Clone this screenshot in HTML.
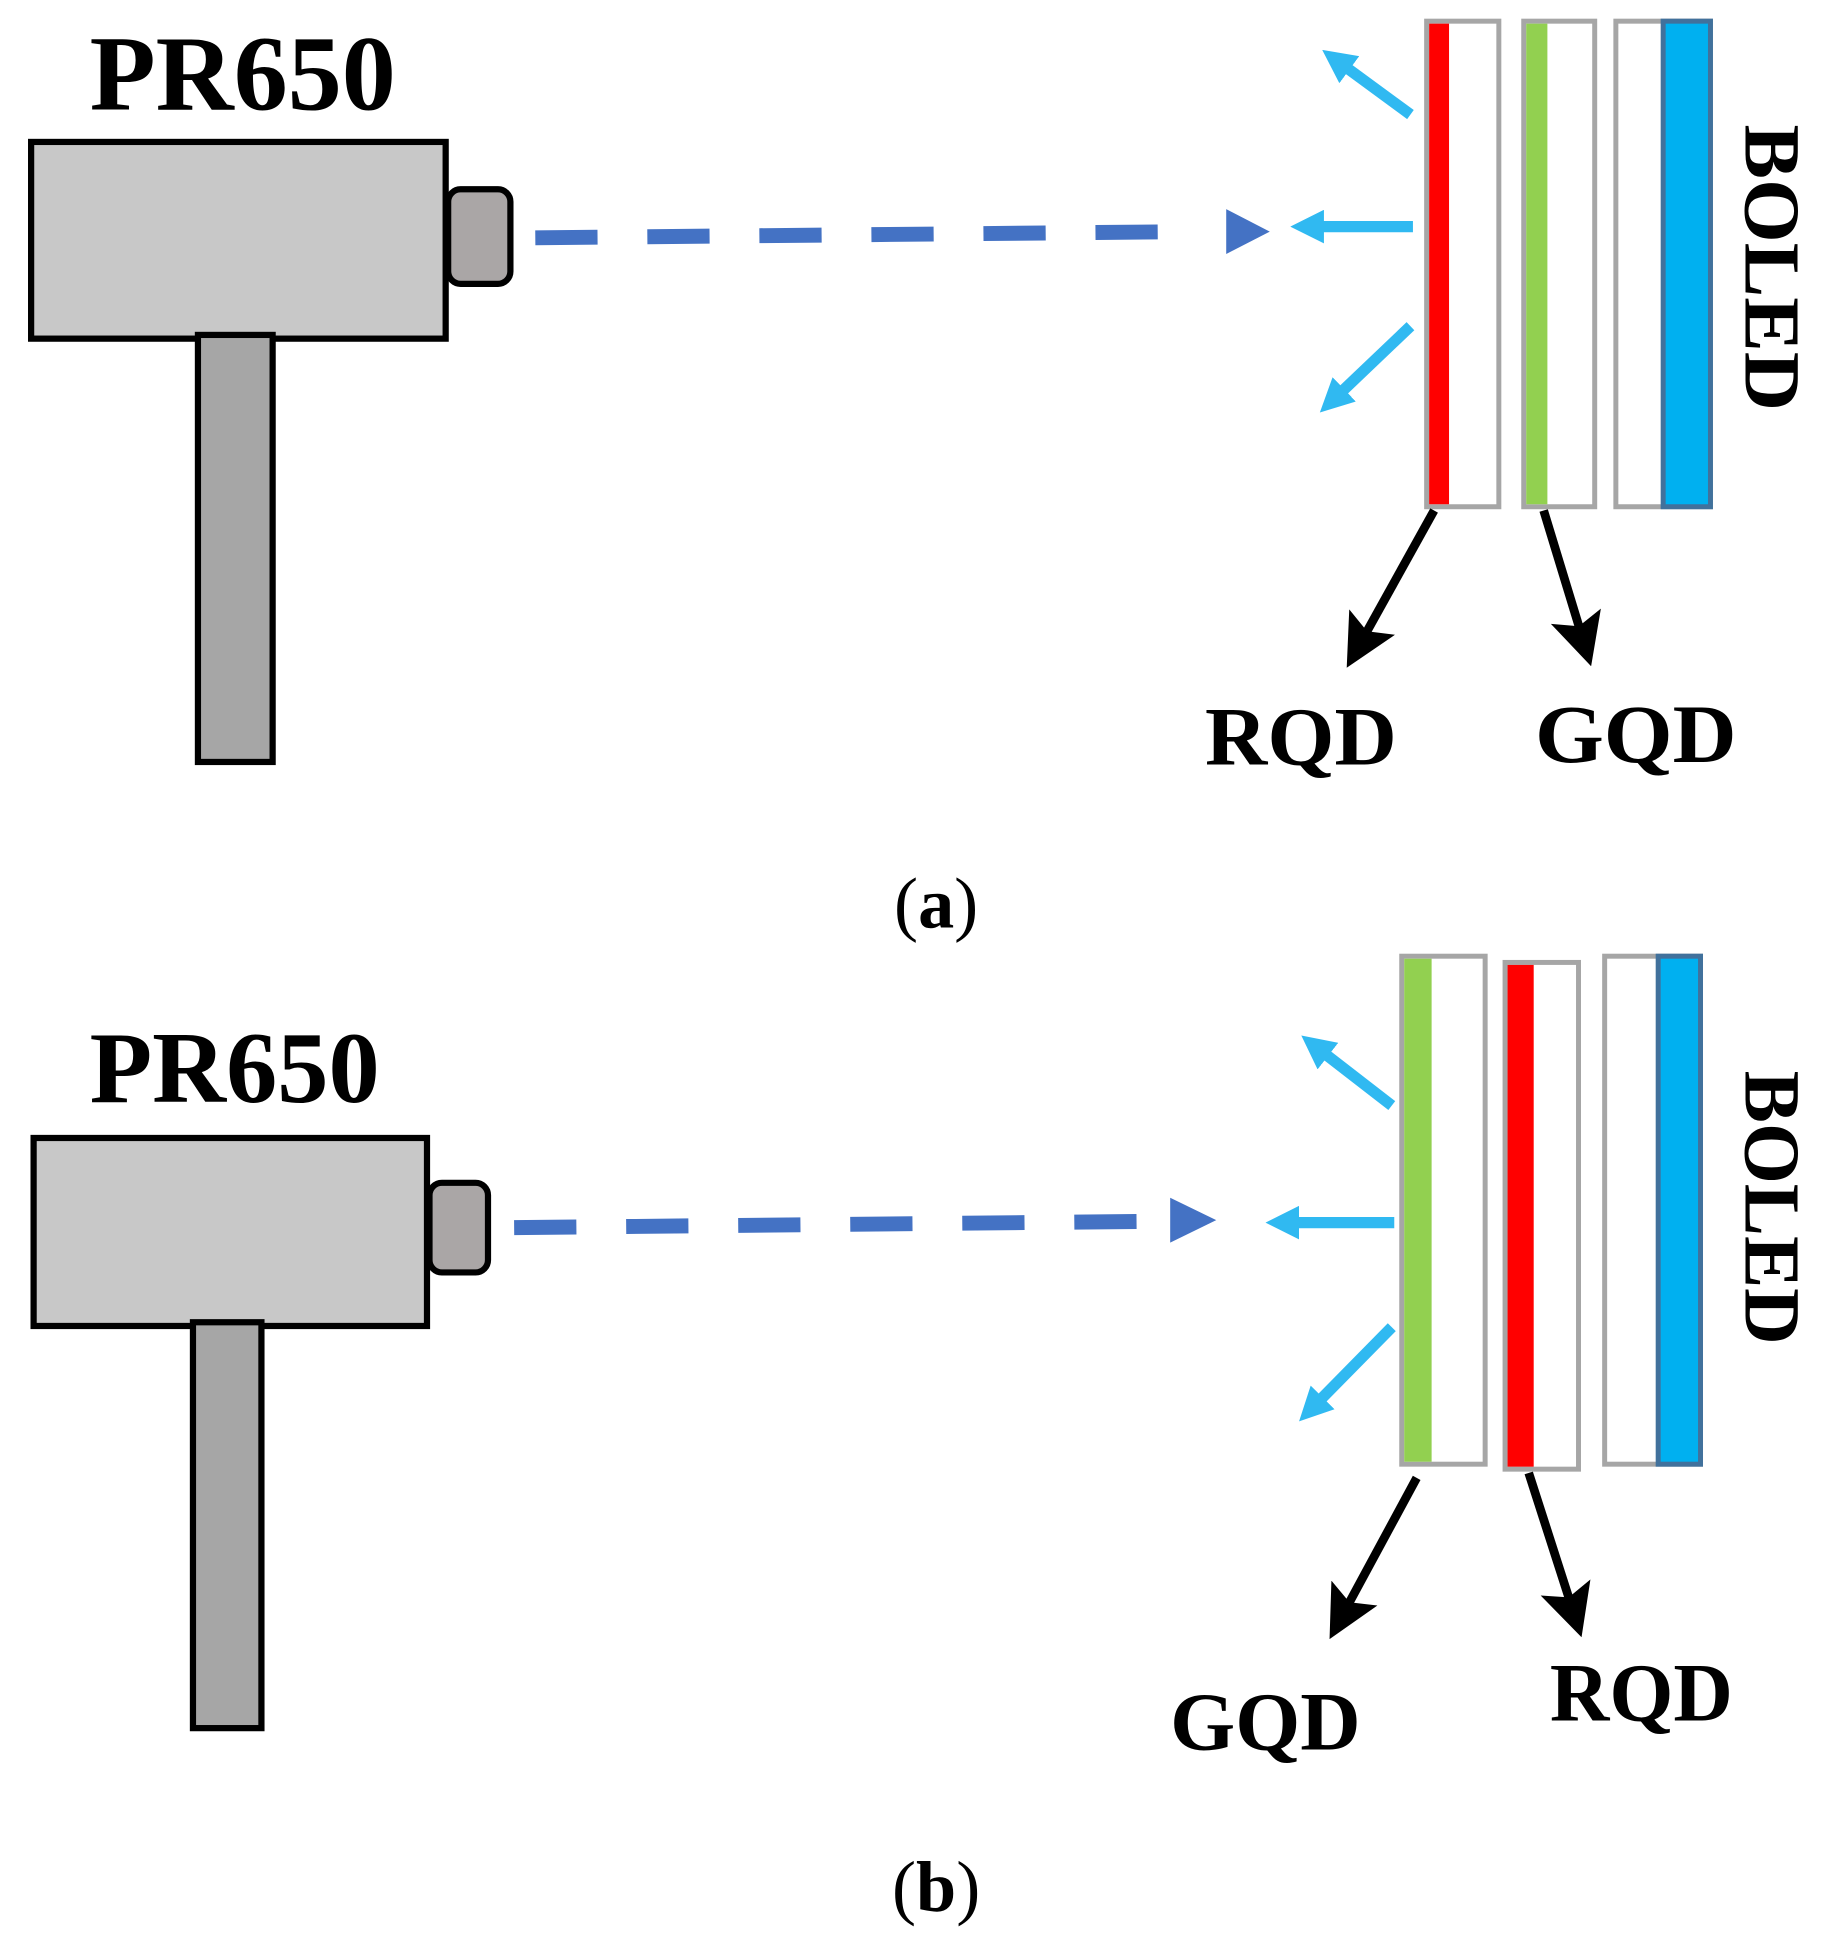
<!DOCTYPE html>
<html><head><meta charset="utf-8"><style>html,body{margin:0;padding:0;background:#fff}svg{display:block}</style></head>
<body>
<svg width="1825" height="1951" viewBox="0 0 1466 1567" preserveAspectRatio="none" xmlns="http://www.w3.org/2000/svg">
<defs>
<marker id="bk" markerWidth="6" markerHeight="6" refX="3" refY="3" orient="auto" markerUnits="strokeWidth"><path d="M0,0 L6,3 L0,6 L1.2,3 z" fill="#000"/></marker>
<marker id="cy" markerWidth="3" markerHeight="3" refX="1.5" refY="1.5" orient="auto" markerUnits="strokeWidth"><path d="M0,0 L3,1.5 L0,3 z" fill="#1ab2f0"/></marker>
</defs>
<g font-family="Liberation Serif, serif" font-weight="bold" fill="#000">
<!-- panel a -->
<text x="72" y="88" font-size="86" textLength="246" lengthAdjust="spacingAndGlyphs">PR650</text>
<rect x="25" y="114" width="333" height="158" fill="#c8c8c8" stroke="#000" stroke-width="5"/>
<rect x="360" y="152" width="50" height="76" rx="10" fill="#aaa6a6" stroke="#000" stroke-width="5"/>
<rect x="159" y="269" width="60" height="343" fill="#a6a6a6" stroke="#000" stroke-width="5"/>
<line x1="430" y1="191" x2="958" y2="186" stroke="#4472c4" stroke-width="12" stroke-dasharray="50,40"/>
<path d="M985,168 L1020,186 L985,204 z" fill="#4472c4"/>
<g stroke="#1ab2f0" stroke-width="9" fill="none" marker-end="url(#cy)" opacity="0.9">
<line x1="1135" y1="182" x2="1050" y2="182"/>
<line x1="1133" y1="92" x2="1073" y2="48"/>
<line x1="1133" y1="262" x2="1070" y2="322"/>
</g>
<rect x="1146" y="17" width="58" height="390" fill="#fff" stroke="#a6a6a6" stroke-width="4"/>
<rect x="1148" y="19" width="16" height="386" fill="#ff0000"/>
<rect x="1224" y="17" width="57" height="390" fill="#fff" stroke="#a6a6a6" stroke-width="4"/>
<rect x="1226" y="19" width="17" height="386" fill="#92d050"/>
<rect x="1298" y="17" width="76" height="390" fill="#fff" stroke="#a6a6a6" stroke-width="4"/>
<rect x="1336" y="17" width="38" height="390" fill="#00b0f0" stroke="#41719c" stroke-width="4"/>
<text transform="translate(1402,215) rotate(90)" font-size="64" text-anchor="middle" textLength="230" lengthAdjust="spacingAndGlyphs">BOLED</text>
<g stroke="#000" stroke-width="7" marker-end="url(#bk)">
<line x1="1152" y1="410" x2="1092" y2="518"/>
<line x1="1240" y1="410" x2="1272" y2="515"/>
</g>
<text x="968" y="614" font-size="66" textLength="154" lengthAdjust="spacingAndGlyphs">RQD</text>
<text x="1233" y="612" font-size="66" textLength="162" lengthAdjust="spacingAndGlyphs">GQD</text>
<text x="752" y="745" font-size="58" text-anchor="middle"><tspan font-weight="normal">(</tspan>a<tspan font-weight="normal">)</tspan></text>
<!-- panel b -->
<text x="72" y="885" font-size="82" textLength="233" lengthAdjust="spacingAndGlyphs">PR650</text>
<rect x="27" y="914" width="316" height="151" fill="#c8c8c8" stroke="#000" stroke-width="5"/>
<rect x="345" y="950" width="47" height="72" rx="10" fill="#aaa6a6" stroke="#000" stroke-width="5"/>
<rect x="155" y="1062" width="55" height="326" fill="#a6a6a6" stroke="#000" stroke-width="5"/>
<line x1="413" y1="986" x2="920" y2="981" stroke="#4472c4" stroke-width="12" stroke-dasharray="50,40"/>
<path d="M940,962 L977,980 L940,998 z" fill="#4472c4"/>
<g stroke="#1ab2f0" stroke-width="9" fill="none" marker-end="url(#cy)" opacity="0.9">
<line x1="1120" y1="982" x2="1030" y2="982"/>
<line x1="1118" y1="888" x2="1056" y2="840"/>
<line x1="1118" y1="1066" x2="1053" y2="1132"/>
</g>
<rect x="1126" y="768" width="67" height="408" fill="#fff" stroke="#a6a6a6" stroke-width="4"/>
<rect x="1128" y="770" width="22" height="404" fill="#92d050"/>
<rect x="1209" y="773" width="59" height="407" fill="#fff" stroke="#a6a6a6" stroke-width="4"/>
<rect x="1211" y="775" width="21" height="403" fill="#ff0000"/>
<rect x="1289" y="768" width="77" height="408" fill="#fff" stroke="#a6a6a6" stroke-width="4"/>
<rect x="1332" y="768" width="34" height="408" fill="#00b0f0" stroke="#41719c" stroke-width="4"/>
<text transform="translate(1402,970) rotate(90)" font-size="64" text-anchor="middle" textLength="220" lengthAdjust="spacingAndGlyphs">BOLED</text>
<g stroke="#000" stroke-width="7" marker-end="url(#bk)">
<line x1="1138" y1="1187" x2="1078" y2="1298"/>
<line x1="1228" y1="1183" x2="1264" y2="1295"/>
</g>
<text x="940" y="1405" font-size="66" textLength="153" lengthAdjust="spacingAndGlyphs">GQD</text>
<text x="1245" y="1382" font-size="66" textLength="147" lengthAdjust="spacingAndGlyphs">RQD</text>
<text x="752" y="1535" font-size="58" text-anchor="middle"><tspan font-weight="normal">(</tspan>b<tspan font-weight="normal">)</tspan></text>
</g>
</svg>
</body></html>
